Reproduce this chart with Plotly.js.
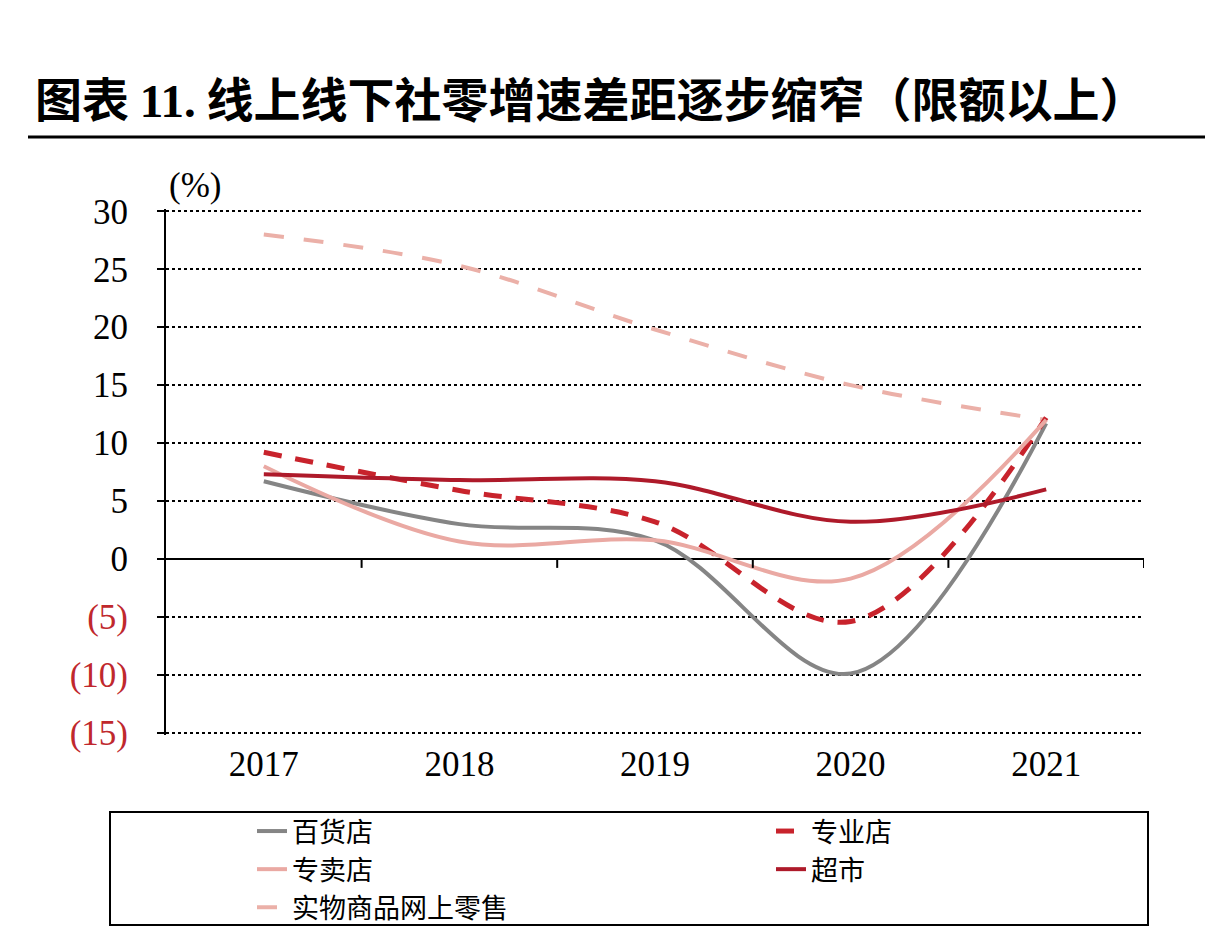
<!DOCTYPE html>
<html><head><meta charset="utf-8">
<script src="https://cdn.plot.ly/plotly-3.0.1.min.js"></script>
<style>body{margin:0;background:#fff}#chart{width:1222px;height:952px}</style>
</head><body><div id="chart"></div>
<script>
const years = ['2017','2018','2019','2020','2021'];
const department = [6.7, 3.0, 1.6, -9.9, 11.7];   // 百货店
const specialty = [9.2, 5.9, 3.2, -5.4, 12.2];    // 专业店
const exclusive = [8.0, 1.5, 1.6, -1.7, 12.0];    // 专卖店
const supermarket = [7.3, 6.8, 6.7, 3.2, 6.0];    // 超市
const online = [28.0, 25.3, 19.8, 15.0, 12.0];    // 实物商品网上零售
const seriesNames = ['百货店','专业店','专卖店','超市','实物商品网上零售'];
const yTickVals = [30,25,20,15,10,5,0,-5,-10,-15];
const yTickText = ['30','25','20','15','10','5','0','(5)','(10)','(15)'];

const NEG = '#c0282d';
const PAD = 0.2;            // small range padding (units) so edge gridlines draw
const UNIT = 11.6;          // px per unit
const W = 1222, H = 952, L = 166, R = 78;
const T = Math.round(211 - PAD * UNIT), B = Math.round(219 - PAD * UNIT);
const pw = W - L - R, ph = H - T - B;
const px = v => (v - L) / pw;
const py = v => (H - B - v) / ph;

const serif = 'Liberation Serif, Times New Roman, serif';
const cjk = 'Noto Sans CJK SC, sans-serif';

const mk = (y, name, color, width, dash, legend, rank) => ({
  type: 'scatter', mode: 'lines', x: years, y: y, name: name,
  line: {color: color, width: width, dash: dash, shape: 'spline', smoothing: 1},
  legend: legend, legendrank: rank, hoverinfo: 'skip'
});

const traces = [
  mk(online, seriesNames[4], '#ebb0a8', 4, '20px,20px', 'legend', 3),
  mk(department, seriesNames[0], '#858585', 4, 'solid', 'legend', 1),
  mk(specialty, seriesNames[1], '#c8232c', 5, '18px,14px', 'legend2', 1),
  mk(exclusive, seriesNames[2], '#eaa9a3', 4, 'solid', 'legend', 2),
  mk(supermarket, seriesNames[3], '#ae1a2a', 4, 'solid', 'legend2', 2)
];

const shapes = [
  {type:'line', xref:'paper', yref:'paper', x0:px(28), x1:px(1205), y0:py(137), y1:py(137), line:{color:'#000', width:3}},
  {type:'rect', xref:'paper', yref:'paper', x0:px(110), x1:px(1148), y0:py(812), y1:py(925), line:{color:'#000', width:2}}
];
years.forEach((_, i) => {
  shapes.push({type:'line', xref:'x', yref:'y', x0:i+0.5, x1:i+0.5, ysizemode:'pixel', yanchor:0, y0:0, y1:-9, line:{color:'#000', width:2}});
});

const yText = yTickText.map((t, i) => yTickVals[i] < 0 ? `<span style="color:${NEG}">${t}</span>` : t);

const layout = {
  width: W, height: H,
  paper_bgcolor: '#fff', plot_bgcolor: '#fff',
  margin: {l: L, r: R, t: T, b: B},
  title: {
    text: '图表 <span style="font-family:Liberation Serif">11.</span> 线上线下社零增速差距逐步缩窄（限额以上）',
    font: {family: cjk, size: 47, color: '#000', weight: 'bold'},
    xref: 'container', yref: 'container', x: 35 / W, xanchor: 'left', y: 1 - 101 / H, yanchor: 'middle'
  },
  xaxis: {
    type: 'category', range: [-0.5, 4.5], showgrid: false, showline: false, zeroline: false,
    ticks: '', tickfont: {family: serif, size: 35, color: '#000'}, ticklabelstandoff: 5
  },
  yaxis: {
    range: [-15 - PAD, 30 + PAD], tickvals: yTickVals, ticktext: yText,
    showgrid: true, gridcolor: '#000', griddash: 'dot', gridwidth: 2,
    zeroline: true, zerolinecolor: '#000', zerolinewidth: 2,
    showline: true, linecolor: '#000', linewidth: 2,
    ticks: 'outside', ticklen: 7, tickwidth: 2, tickcolor: '#000',
    tickfont: {family: serif, size: 35, color: '#000'}, ticklabelstandoff: 22
  },
  showlegend: true,
  legend: {
    orientation: 'v', x: px(252), xanchor: 'left', y: py(807), yanchor: 'top',
    font: {family: cjk, size: 27, color: '#000'}, bgcolor: 'rgba(0,0,0,0)', borderwidth: 0,
    traceorder: 'normal'
  },
  legend2: {
    orientation: 'v', x: px(771), xanchor: 'left', y: py(807), yanchor: 'top',
    font: {family: cjk, size: 27, color: '#000'}, bgcolor: 'rgba(0,0,0,0)', borderwidth: 0,
    traceorder: 'normal'
  },
  shapes: shapes,
  annotations: [
    {xref:'paper', yref:'paper', x: px(195), y: py(186), text:'(%)', showarrow:false,
     font:{family: serif, size: 35, color:'#000'}, xanchor:'center', yanchor:'middle'}
  ]
};

Plotly.newPlot('chart', traces, layout, {staticPlot: true, displayModeBar: false});
</script>
</body></html>
